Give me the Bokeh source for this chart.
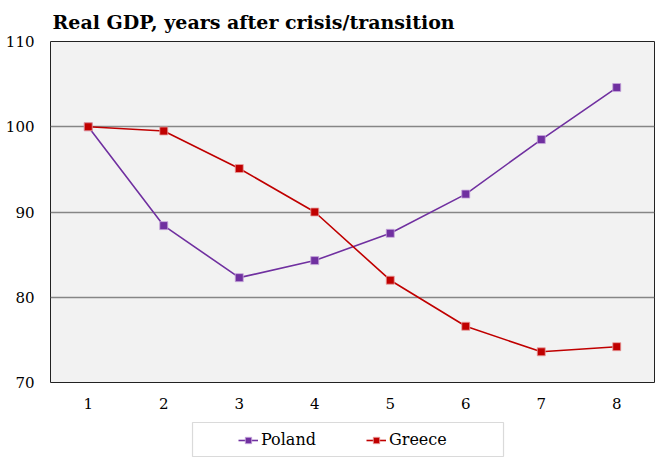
from bokeh.plotting import figure
from bokeh.models import Legend, LegendItem, FixedTicker, Range1d, BoxAnnotation
from bokeh.layouts import column
from bokeh.embed import file_html
from bokeh.resources import INLINE

years = [1, 2, 3, 4, 5, 6, 7, 8]
poland = [100.0, 88.4, 82.3, 84.3, 87.5, 92.1, 98.5, 104.6]
greece = [100.0, 99.5, 95.1, 90.0, 82.0, 76.6, 73.6, 74.2]
y_ticks = [70, 80, 90, 100, 110]
grid_ticks = [80, 90, 100]
series_names = ["Poland", "Greece"]
series_values = [poland, greece]
series_colors = ["#7030A0", "#C00000"]
edge_colors = ["#C8A8DC", "#E8A0A0"]

SERIF = "DejaVu Serif"
W = 655

p = figure(width=W, height=418, output_backend="svg", toolbar_location=None,
           x_range=Range1d(0.5, 8.5), y_range=Range1d(70, 110),
           title="Real GDP, years after crisis/transition",
           min_border_left=50, min_border_right=1, min_border_top=0, min_border_bottom=36)

p.title.text_font = SERIF
p.title.text_font_size = "19px"
p.title.text_font_style = "bold"
p.title.text_color = "black"
p.title.offset = 2
p.title.standoff = 17

p.background_fill_color = "#F2F2F2"
p.border_fill_color = "white"
p.outline_line_color = "#222222"
p.outline_line_width = 1

p.xgrid.grid_line_color = None
p.ygrid.ticker = FixedTicker(ticks=grid_ticks)
p.ygrid.grid_line_color = "#868686"
p.ygrid.grid_line_width = 1.6

for ax in (p.xaxis[0], p.yaxis[0]):
    ax.axis_line_color = None
    ax.major_tick_line_color = None
    ax.minor_tick_line_color = None
    ax.major_tick_out = 0
    ax.major_tick_in = 0
    ax.major_label_text_font = SERIF
    ax.major_label_text_font_size = "15px"
    ax.major_label_text_color = "black"

p.xaxis.ticker = FixedTicker(ticks=years)
p.yaxis.ticker = FixedTicker(ticks=y_ticks)
p.xaxis.major_label_standoff = 15
p.yaxis.major_label_standoff = 16

for vals, col, edge in zip(series_values, series_colors, edge_colors):
    p.line(years, vals, line_color=col, line_width=1.6)
    p.scatter(years, vals, marker="square", size=8, fill_color=col,
              line_color=edge, line_width=0.8)

# legend strip below the chart (its frame lines up with the chart frame);
# its ranges are pixel-like, so the series themselves fall outside its view
lg = figure(width=W, height=40, output_backend="svg", toolbar_location=None,
            x_range=Range1d(0, 604), y_range=Range1d(40, 0),
            x_axis_type=None, y_axis_type=None,
            min_border_left=50, min_border_right=1, min_border_top=0, min_border_bottom=0)
lg.outline_line_color = None
lg.xgrid.visible = False
lg.ygrid.visible = False
lg.background_fill_color = "white"
lg.border_fill_color = "white"

items = []
for name, vals, col, edge in zip(series_names, series_values, series_colors, edge_colors):
    r1 = lg.line(years, vals, line_color=col, line_width=1.6)
    r2 = lg.scatter(years, vals, marker="square", size=8, fill_color=col,
                    line_color=edge, line_width=0.8)
    items.append(LegendItem(label=name, renderers=[r1, r2]))

legend = Legend(items=items, orientation="horizontal", location=(188, 9),
                label_text_font=SERIF, label_text_font_size="16px",
                label_text_color="black",
                glyph_width=20, glyph_height=16, label_standoff=3, spacing=50,
                padding=7, margin=0,
                border_line_color=None, background_fill_alpha=0)
lg.add_layout(legend)

box = BoxAnnotation(left=142, right=453, top=4, bottom=38,
                    fill_alpha=0, line_color="#868686", line_width=1.2)
lg.add_layout(box)

layout = column(p, lg, spacing=0)
open("out.html", "w").write(file_html(layout, INLINE))
